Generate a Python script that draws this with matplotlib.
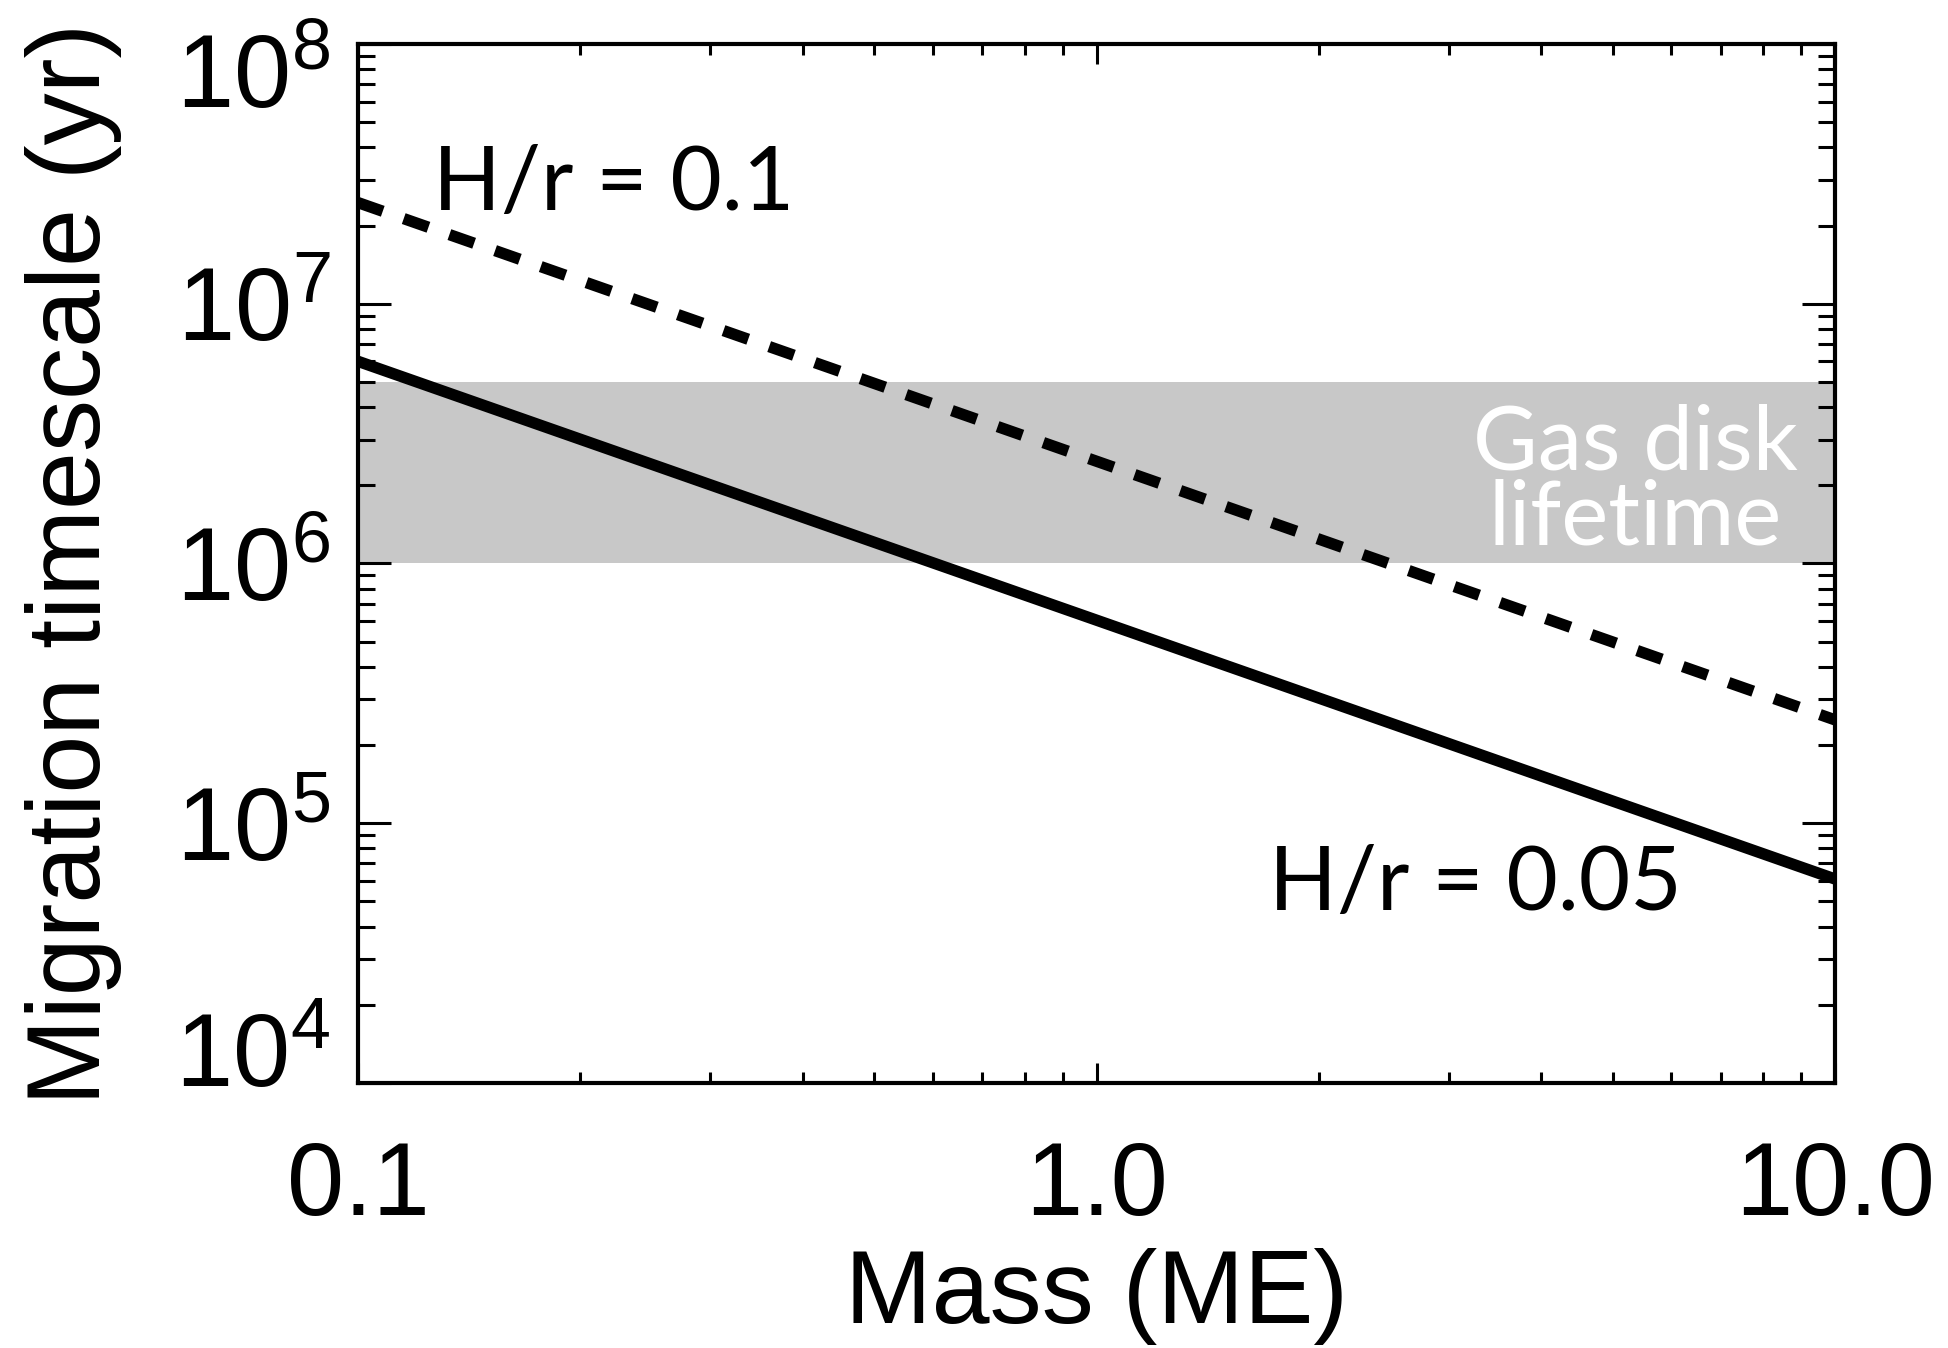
import matplotlib; matplotlib.use("Agg")
import matplotlib.pyplot as plt
import matplotlib.ticker as mt
import matplotlib.transforms as mtrans
import numpy as np

# --- values ---
mass = [0.1, 10.0]                      # planet mass (Earth masses), axis ends
t_hr005 = [6.0e6, 6.1e4]                # migration timescale, H/r = 0.05 (solid)
t_hr01 = [2.45e7, 2.5e5]                # migration timescale, H/r = 0.1 (dashed)
disk_life = [1.0e6, 5.0e6]              # gas disk lifetime band
xticks = [0.1, 1.0, 10.0]
xticklabels = ["0.1", "1.0", "10.0"]
yticks = [1e4, 1e5, 1e6, 1e7, 1e8]
yticklabels = [r"$10^{4}$", r"$10^{5}$", r"$10^{6}$", r"$10^{7}$", r"$10^{8}$"]

plt.rcParams.update({"font.family": ["Liberation Sans", "DejaVu Sans"],
                     "mathtext.fontset": "custom", "mathtext.rm": "Liberation Sans",
                     "mathtext.it": "Liberation Sans:italic", "mathtext.bf": "Liberation Sans:bold"})
ANN = ["Lato", "DejaVu Sans"]           # stand-in for the Gill Sans annotations

fig = plt.figure(figsize=(19.49, 13.48), dpi=100)
ax = fig.add_axes([0.1837, 0.1966, 0.7578, 0.7708])

ax.axhspan(*disk_life, color="#c8c8c8", lw=0, zorder=1)
ax.plot(mass, t_hr005, color="k", lw=8.2, solid_capstyle="butt", zorder=3)
ax.plot(mass, t_hr01, color="k", lw=8.2, ls=(0, (2.3, 1.95)), dash_capstyle="butt", zorder=3)

ax.set_xscale("log"); ax.set_yscale("log")
ax.set_xlim(mass[0], mass[-1]); ax.set_ylim(yticks[0], yticks[-1])

ax.xaxis.set_major_locator(mt.FixedLocator(xticks))
ax.xaxis.set_major_formatter(mt.FixedFormatter(xticklabels))
ax.yaxis.set_major_locator(mt.FixedLocator(yticks))
ax.yaxis.set_major_formatter(mt.FixedFormatter(yticklabels))
for a in (ax.xaxis, ax.yaxis):
    a.set_minor_locator(mt.LogLocator(base=10, subs=np.arange(2, 10)))
    a.set_minor_formatter(mt.NullFormatter())

ax.tick_params(which="both", direction="in", top=True, right=True, color="k", width=2.2, labelsize=74)
ax.tick_params(axis="x", which="major", length=14.5, pad=41)
ax.tick_params(axis="x", which="minor", length=8)
ax.tick_params(axis="y", which="major", length=24, pad=20)
ax.tick_params(axis="y", which="minor", length=12.5)
for s in ax.spines.values():
    s.set_linewidth(3)

# end labels of the y axis sit inside the axis span, as in the original
for tick, dy in zip(ax.yaxis.get_major_ticks(), [24, 0, 0, 0, -19]):
    if dy:
        lab = tick.label1
        lab.set_transform(lab.get_transform() + mtrans.ScaledTranslation(0, dy / 72, fig.dpi_scale_trans))

ax.set_xlabel("Mass (ME)", fontsize=75)
ax.xaxis.set_label_coords(0.5, -0.159)
ax.set_ylabel("Migration timescale (yr)", fontsize=75)
ax.yaxis.set_label_coords(-0.16, 0.5)

ax.text(0.1265, 2.3e7, "H/r = 0.1", fontsize=64, family=ANN, va="baseline", zorder=4)
ax.text(1.71, 4.63e4, "H/r = 0.05", fontsize=64, family=ANN, va="baseline", zorder=4)
ax.text(5.36, 2.29e6, "Gas disk", fontsize=64, family=ANN, color="white", ha="center", va="baseline", zorder=2)
ax.text(5.36, 1.18e6, "lifetime", fontsize=64, family=ANN, color="white", ha="center", va="baseline", zorder=2)

fig.savefig("out.png", dpi=100)
